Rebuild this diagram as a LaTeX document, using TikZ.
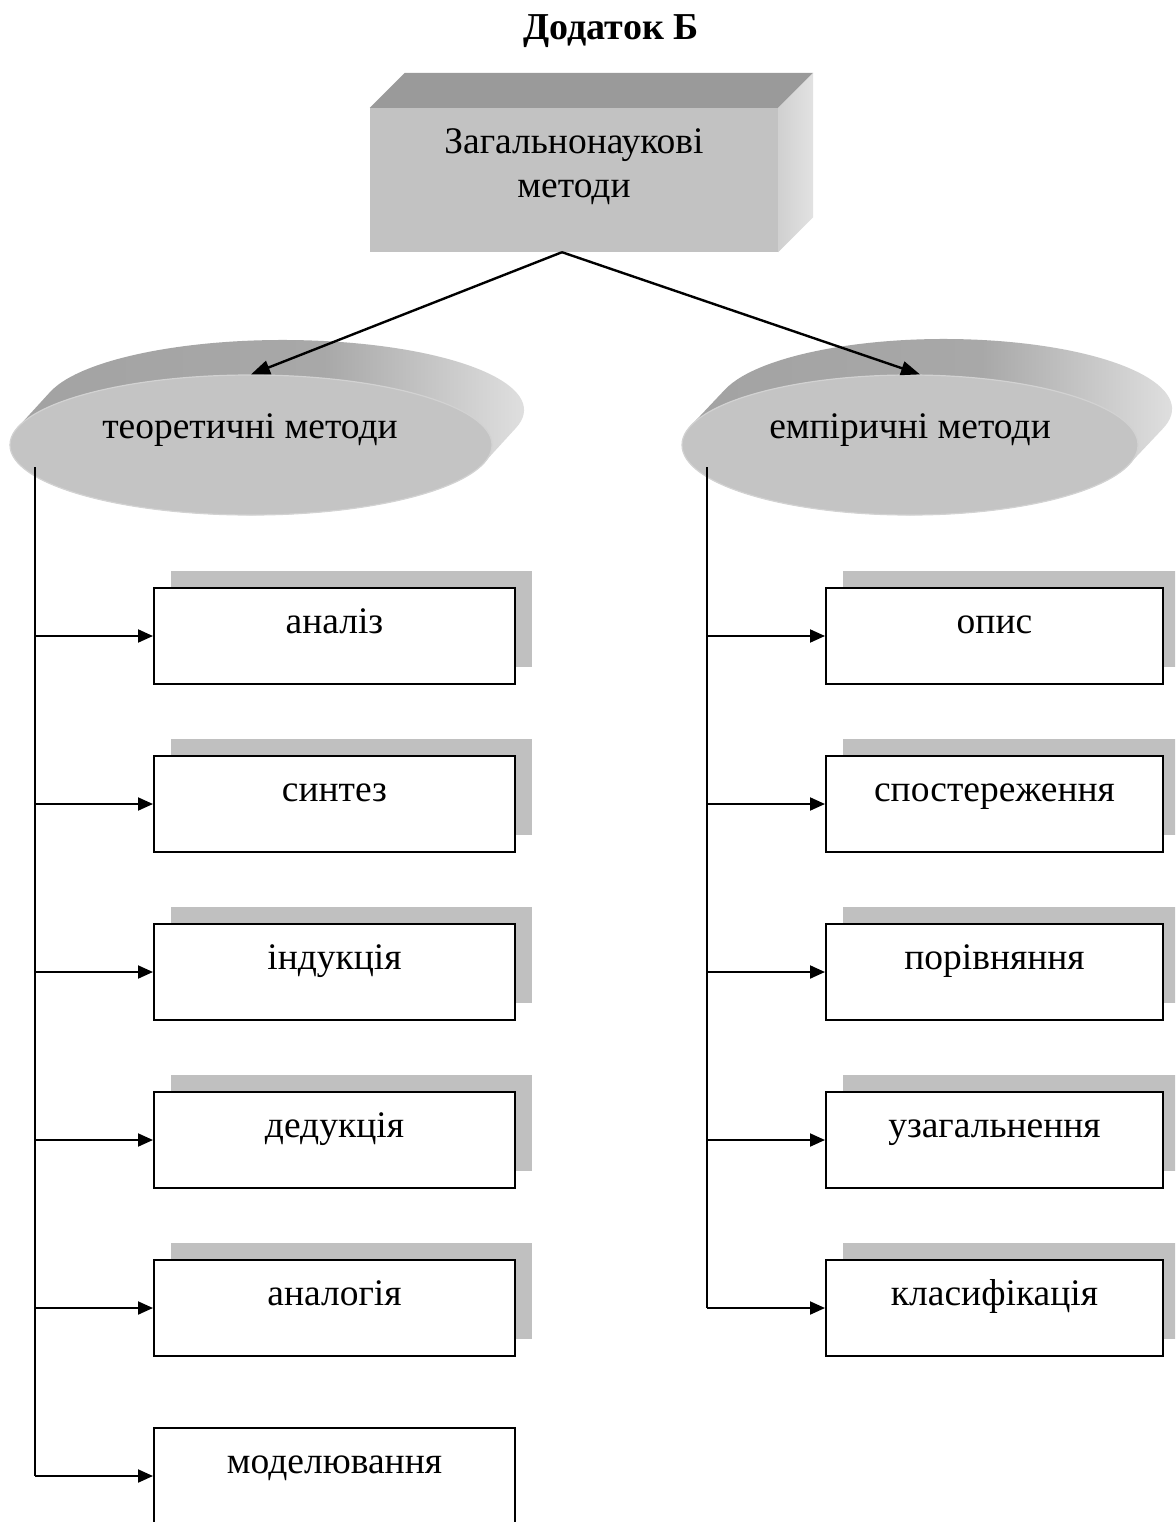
\documentclass[tikz,border=0pt]{standalone}
\usepackage{fontspec}
\setmainfont{Liberation Serif}
\usetikzlibrary{arrows.meta,shapes.geometric,calc,shadows}

\definecolor{frontgray}{HTML}{C2C2C2}
\definecolor{topgray}{HTML}{9A9A9A}
\definecolor{sidegray}{HTML}{E2E2E2}
\definecolor{discgray}{HTML}{C4C4C4}
\definecolor{rimgray}{HTML}{D2D2D2}
\definecolor{shadowgray}{HTML}{C0C0C0}
\definecolor{bandA}{HTML}{A2A2A2}
\definecolor{bandB}{HTML}{A8A8A8}
\definecolor{bandC}{HTML}{E6E6E6}

% shading of the extruded side of the discs
\pgfdeclarehorizontalshading{bandshade}{100bp}{color(0bp)=(bandA); color(25bp)=(bandA); color(55bp)=(bandB); color(75bp)=(bandC); color(100bp)=(bandC)}
\pgfdeclarehorizontalshading{sideshade}{100bp}{color(0bp)=(sidegray!92!black); color(25bp)=(sidegray!92!black); color(75bp)=(sidegray); color(100bp)=(sidegray)}

\begin{document}
\begin{tikzpicture}[x=1pt,y=1pt,
  txt/.style={font=\fontsize{37.5}{44}\selectfont, inner sep=0pt},
  methodbox/.style={draw=black, line width=2pt, fill=white, minimum width=361pt,
    minimum height=96pt, inner sep=0pt, text height=45pt, text depth=51pt,
    font=\fontsize{37.5}{44}\selectfont},
  shadowed/.style={drop shadow={shadow xshift=17pt, shadow yshift=17pt, opacity=1, fill=shadowgray}},
  disc/.style={ellipse, fill=discgray, draw=rimgray, line width=1.2pt, inner sep=0pt, minimum height=140pt},
  bigarrow/.style={line width=2.4pt, -{Triangle[length=19pt,width=14pt]}},
  branch/.style={line width=2pt, -{Triangle[length=15pt,width=13pt]}},
  trunk/.style={line width=2pt}
]
\clip (0,0) rectangle (1175,-1522);
\fill[white] (0,0) rectangle (1175,-1522);

% heading
\node[txt, font=\fontsize{38}{44}\selectfont\bfseries] (title) at (611,-31) {Додаток Б};

% 3D block at the top
\node[fill=frontgray, minimum width=408pt, minimum height=144pt, inner sep=0pt] (top) at (574,-180) {};
\fill[topgray] (top.north west) -- ++(35,35) -- ($(top.north east)+(35,35)$) -- (top.north east) -- cycle;
\shade[shading=sideshade] (top.north east) -- ++(35,35) -- ($(top.south east)+(35,35)$) -- (top.south east) -- cycle;
\node[txt, align=center] (topT) at (574,-167) {Загальнонаукові\\методи};

% left disc with its extruded side
\coordinate (cl) at (251,-445);
\shade[shading=bandshade]
  ($(cl)+(165.1:241 and 70)$) arc[start angle=165.1, end angle=345.1, x radius=241, y radius=70]
  -- ++(32,35) arc[start angle=345.1, end angle=525.1, x radius=241, y radius=70] -- cycle;
\node[disc, minimum width=482pt] (theo) at (cl) {};
\node[txt] (theoT) at (250,-430) {теоретичні методи};

% right disc with its extruded side
\coordinate (cr) at (910,-445);
\shade[shading=bandshade]
  ($(cr)+(163.8:228 and 70)$) arc[start angle=163.8, end angle=343.8, x radius=228, y radius=70]
  -- ++(34,36) arc[start angle=343.8, end angle=523.8, x radius=228, y radius=70] -- cycle;
\node[disc, minimum width=456pt] (emp) at (cr) {};
\node[txt] (empT) at (910,-430) {емпіричні методи};

% arrows from the block to the discs
\coordinate (split) at ($(top.south)+(-12,0)$);
\draw[bigarrow] (split) -- (theo.north);
\draw[bigarrow] (split) -- ([xshift=10pt]emp.north);

% theoretical methods
\node[methodbox, shadowed] (t1) at (334.5,-636) {аналіз};
\node[methodbox, shadowed] (t2) at (334.5,-804) {синтез};
\node[methodbox, shadowed] (t3) at (334.5,-972) {індукція};
\node[methodbox, shadowed] (t4) at (334.5,-1140) {дедукція};
\node[methodbox, shadowed] (t5) at (334.5,-1308) {аналогія};
\node[methodbox] (t6) at (334.5,-1476) {моделювання};

% empirical methods
\node[methodbox, shadowed, minimum width=337pt] (e1) at (994.5,-636) {опис};
\node[methodbox, shadowed, minimum width=337pt] (e2) at (994.5,-804) {спостереження};
\node[methodbox, shadowed, minimum width=337pt] (e3) at (994.5,-972) {порівняння};
\node[methodbox, shadowed, minimum width=337pt] (e4) at (994.5,-1140) {узагальнення};
\node[methodbox, shadowed, minimum width=337pt] (e5) at (994.5,-1308) {класифікація};

% trunk lines and branches
\coordinate (tl) at (35,-467);
\coordinate (tr) at (707,-467);
\draw[trunk] (tl) -- (tl |- t6.west);
\foreach \n in {t1,t2,t3,t4,t5,t6}
  \draw[branch] (tl |- \n.west) -- (\n.west);
\draw[trunk] (tr) -- (tr |- e5.west);
\foreach \n in {e1,e2,e3,e4,e5}
  \draw[branch] (tr |- \n.west) -- (\n.west);
\end{tikzpicture}
\end{document}
